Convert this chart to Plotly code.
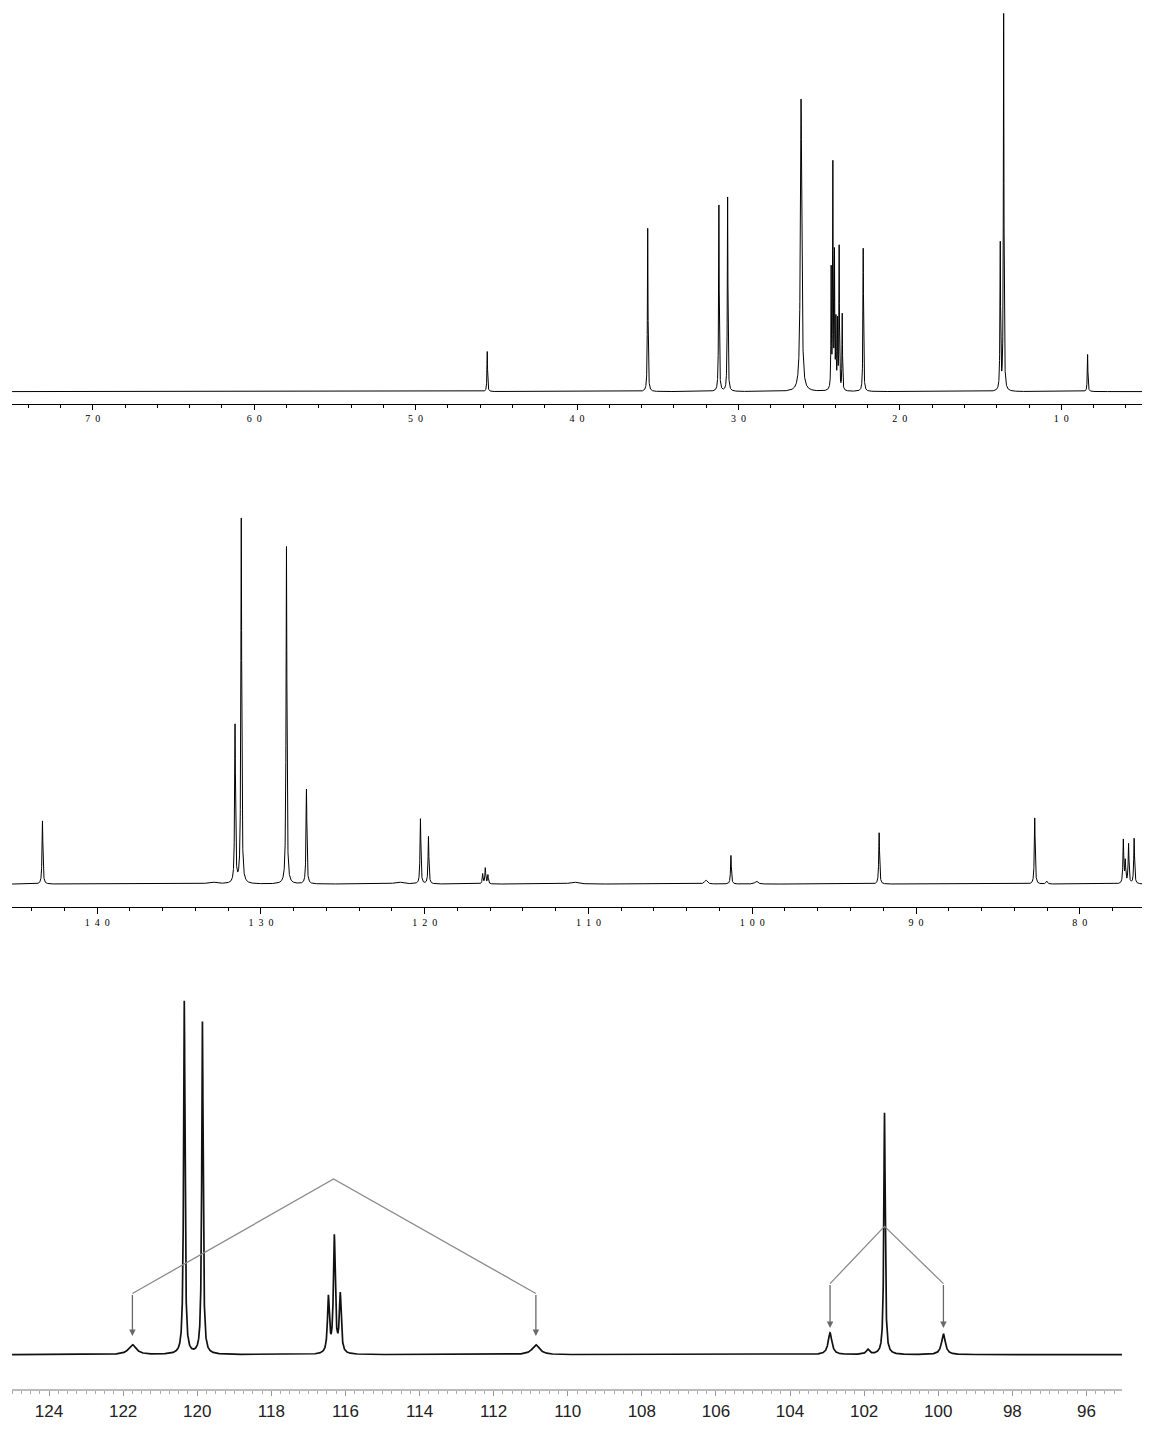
import numpy as np
import plotly.graph_objects as go

# --- 1H spectrum (top panel), ppm / height / half-width (ppm)
h_shift = [4.556, 3.562, 3.121, 3.067, 2.612, 2.4255, 2.415, 2.405, 2.396, 2.386, 2.376, 2.357, 2.227, 1.378, 1.357, 0.837]
h_height = [40, 163, 186, 194, 292, 118, 222, 132, 66, 66, 142, 76, 143, 146, 376, 37]
h_hwhm = [0.0022, 0.0022, 0.0022, 0.0022, 0.005, 0.0018, 0.0018, 0.0018, 0.0018, 0.0018, 0.0018, 0.0018, 0.0022, 0.0022, 0.0022, 0.0022]

# --- 13C spectrum (middle panel)
c_shift = [143.34, 133.0, 131.58, 131.20, 128.44, 127.22, 121.6, 120.26, 119.77, 116.46, 116.30, 116.14,
           110.9, 102.83, 101.30, 99.75, 92.25, 82.75, 82.02, 77.34, 77.22, 77.02, 76.68]
c_height = [64, 2, 160, 370, 342, 96, 2, 66, 48, 10, 16, 9,
            2, 4, 29, 3, 52, 67, 3, 44, 22, 40, 46]
c_hwhm = [0.03, 0.3, 0.03, 0.03, 0.03, 0.03, 0.3, 0.03, 0.03, 0.03, 0.03, 0.03,
          0.3, 0.1, 0.03, 0.1, 0.03, 0.03, 0.05, 0.03, 0.03, 0.03, 0.03]

# --- 13C expansion (bottom panel)
e_shift = [121.75, 120.35, 119.86, 116.46, 116.30, 116.14, 110.86, 102.92, 101.9, 101.45, 99.86]
e_height = [10, 358, 337, 56, 118, 59, 10, 22, 5, 245, 21]
e_hwhm = [0.12, 0.022, 0.022, 0.03, 0.03, 0.03, 0.12, 0.06, 0.05, 0.022, 0.06]

# coupling "roof" markers in the expansion
roof1_x = [121.75, 121.75, 116.32, 110.86, 110.86]
roof1_y = [19, 62, 178, 62, 19]
roof2_x = [102.92, 102.92, 101.45, 99.86, 99.86]
roof2_y = [27, 72, 130, 72, 27]

h_ticks = [7, 6, 5, 4, 3, 2, 1]
h_ticktext = ["7\u20020", "6\u20020", "5\u20020", "4\u20020", "3\u20020", "2\u20020", "1\u20020"]
c_ticks = [140, 130, 120, 110, 100, 90, 80]
c_ticktext = ["1\u20024\u20020", "1\u20023\u20020", "1\u20022\u20020", "1\u20021\u20020",
              "1\u20020\u20020", "9\u20020", "8\u20020"]
e_ticks = [124, 122, 120, 118, 116, 114, 112, 110, 108, 106, 104, 102, 100, 98, 96]


def spectrum(shifts, heights, widths, lo, hi, step):
    grid = np.concatenate([np.arange(lo, hi, step), np.array(shifts)])
    grid = np.sort(grid)[::-1]
    y = np.zeros_like(grid)
    for s, h, w in zip(shifts, heights, widths):
        y += h * w ** 2 / ((grid - s) ** 2 + w ** 2)
    return grid, y


# page has a body margin, so the figure is laid out in page px minus offset
W, H = 1140, 1413
OFF_X = 8
OFF_Y = 4

x1, y1 = spectrum(h_shift, h_height, h_hwhm, 0.5, 7.5, 0.0005)
x2, y2 = spectrum(c_shift, c_height, c_hwhm, 76.2, 145.2, 0.004)
x3, y3 = spectrum(e_shift, e_height, e_hwhm, 95.04, 125.0, 0.002)

fig = go.Figure()
fig.add_trace(go.Scatter(x=x1, y=y1, xaxis="x", yaxis="y", mode="lines",
                         line=dict(color="black", width=1)))
fig.add_trace(go.Scatter(x=x2, y=y2, xaxis="x2", yaxis="y2", mode="lines",
                         line=dict(color="black", width=1)))
fig.add_trace(go.Scatter(x=x3, y=y3, xaxis="x3", yaxis="y3", mode="lines",
                         line=dict(color="#111111", width=1.7)))

for rx, ry in [(roof1_x, roof1_y), (roof2_x, roof2_y)]:
    fig.add_trace(go.Scatter(x=rx[1:4], y=ry[1:4], xaxis="x3", yaxis="y3", mode="lines",
                             line=dict(color="#8a8a8a", width=1.3)))
    for i, j in ((0, 1), (4, 3)):
        fig.add_annotation(x=rx[i], y=ry[i], ax=rx[j], ay=ry[j],
                           xref="x3", yref="y3", axref="x3", ayref="y3", text="",
                           showarrow=True, arrowhead=2, arrowsize=1, arrowwidth=1.3,
                           arrowcolor="#6a6a6a")


def px_x(p):
    return (p - OFF_X) / W


def px_y(p):
    return min(1.0, 1 - (p - OFF_Y) / H)


serif = dict(family="Liberation Serif, Times New Roman, serif", size=10, color="black")
sans = dict(family="Liberation Sans, Arial, sans-serif", size=17, color="#222222")

common = dict(showgrid=False, zeroline=False, showline=True, ticks="outside")

fig.update_layout(
    width=W, height=H,
    margin=dict(l=0, r=0, t=0, b=0),
    paper_bgcolor="white", plot_bgcolor="white",
    showlegend=False,
    xaxis=dict(domain=[px_x(12), px_x(1142)], range=[7.5, 0.5], anchor="y",
               tickmode="array", tickvals=h_ticks, ticktext=h_ticktext,
               ticklen=5, tickwidth=1, tickcolor="black", linecolor="black", linewidth=1,
               tickfont=serif, ticklabelstandoff=0,
               minor=dict(dtick=0.2, tick0=0, ticks="outside", ticklen=3, tickcolor="black"),
               **common),
    yaxis=dict(domain=[px_y(405), 1.0], range=[-12, 383], visible=False),
    xaxis2=dict(domain=[px_x(12), px_x(1142)], range=[145.2, 76.2], anchor="y2",
                tickmode="array", tickvals=c_ticks, ticktext=c_ticktext,
                ticklen=6, tickwidth=1, tickcolor="black", linecolor="black", linewidth=1,
                tickfont=serif, ticklabelstandoff=0,
                minor=dict(dtick=2, tick0=0, ticks="outside", ticklen=3, tickcolor="black"),
                **common),
    yaxis2=dict(domain=[px_y(915), px_y(504)], range=[-23, 388], visible=False),
    xaxis3=dict(domain=[px_x(12), px_x(1122)], range=[125.0, 95.04], anchor="y3",
                tickmode="array", tickvals=e_ticks, ticktext=[str(t) for t in e_ticks],
                ticklen=5, tickwidth=1, tickcolor="#999999", linecolor="#bbbbbb", linewidth=2,
                tickfont=sans, ticklabelstandoff=0,
                minor=dict(dtick=0.25, tick0=0, ticks="outside", ticklen=3, tickcolor="#aaaaaa"),
                **common),
    yaxis3=dict(domain=[px_y(1404), px_y(996)], range=[-35, 373], visible=False),
)

fig.write_html("out.html")
